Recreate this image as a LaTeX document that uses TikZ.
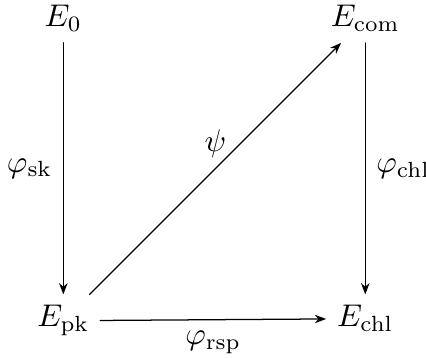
\documentclass[tikz,border=0pt]{standalone}
\usepackage{amsmath,amssymb}
\usetikzlibrary{arrows.meta}

\begin{document}
\begin{tikzpicture}[line cap=round]
    \useasboundingbox (0,0) rectangle (4.77,4.007);
    % --- las cuatro curvas
    \node[anchor=base] (e0)   at (0.709,3.706) {$E_0$};
    \node[anchor=base] (ecom) at (4.090,3.706) {$E_{\text{com}}$};
    \node[anchor=base] (epk)  at (0.709,0.346) {$E_{\text{pk}}$};
    \node[anchor=base] (echl) at (4.090,0.346) {$E_{\text{chl}}$};
    % --- isogenias
    \draw[-{Stealth[length=3.6pt, width=2.7pt]}, line width=0.4pt]
         (e0) -- (epk) node[midway, left] {$\varphi_{\text{sk}}$};
    \draw[-{Stealth[length=3.6pt, width=2.7pt]}, line width=0.4pt]
         (ecom) -- (echl) node[midway, right] {$\varphi_{\text{chl}}$};
    \draw[-{Stealth[length=3.6pt, width=2.7pt]}, line width=0.4pt]
         (epk) -- (echl) node[midway, below] {$\varphi_{\text{rsp}}$};
    \draw[-{Stealth[length=3.6pt, width=2.7pt]}, line width=0.4pt]
         (epk) -- (ecom) node[midway, above] {$\psi$};
  \end{tikzpicture}
\end{document}
